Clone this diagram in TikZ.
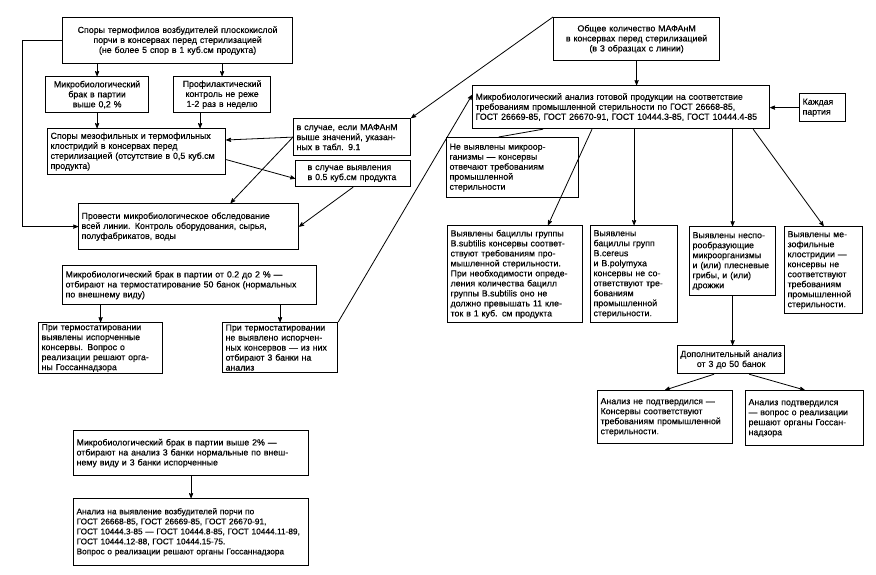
\documentclass[tikz,border=0pt]{standalone}
\usepackage{fontspec}
\setmainfont{Liberation Sans}
\newfontfamily\tekst{Liberation Sans}[FakeBold=0.4]
\usetikzlibrary{arrows}
\tikzset{
  blok/.style={draw, line width=1.2pt, anchor=north west, inner xsep=3pt, inner ysep=1.5pt, align=left, font=\tekst\fontsize{8.8}{10}\selectfont},
  svyaz/.style={line width=.8pt, ->, >=stealth'}
}

\begin{document}
\begin{tikzpicture}[x=1pt,y=-1pt]
\useasboundingbox (0,0) rectangle (876,575);

\node[blok, align=center, text width=224pt, minimum height=46pt] (termofil) at (62,17) {Споры термофилов возбудителей плоскокислой\\ порчи в консервах перед стерилизацией\\ (не более 5 спор в 1 куб.см продукта)};
\node[blok, align=center, text width=97pt, minimum height=36pt] (brak02) at (45,76) {Микробиологический\\ брак в партии\\ выше 0,2 \%};
\node[blok, align=center, text width=91pt, minimum height=36pt] (profil) at (173,76) {Профилактический\\ контроль не реже\\ 1-2 раз в неделю};
\node[blok, text width=172pt, minimum height=46pt] (mezofil) at (47,128) {Споры мезофильных и термофильных\\ клостридий в консервах перед\\ стерилизацией (отсутствие в 0,5 куб.см\\ продукта)};
\node[blok, text width=214pt, minimum height=46pt] (obsled) at (78,203) {Провести микробиологическое обследование\\ всей линии. Контроль оборудования, сырья,\\ полуфабрикатов, воды};
\node[blok, text width=248pt, minimum height=39pt] (brak2) at (62,265) {Микробиологический брак в партии от 0.2 до 2 \% —\\ отбирают на термостатирование 50 банок (нормальных\\ по внешнему виду)};
\node[blok, text width=118pt, minimum height=50pt] (isporch) at (38,322) {При термостатировании\\ выявлены испорченные\\ консервы. Вопрос о\\ реализации решают орга-\\ ны Госсаннадзора};
\node[blok, text width=109pt, minimum height=50pt] (neisporch) at (222,322) {При термостатировании\\ не выявлено испорчен-\\ ных консервов — из них\\ отбирают 3 банки на\\ анализ};
\node[blok, text width=229pt, minimum height=45pt] (brakvyshe) at (73,430) {Микробиологический брак в партии выше 2\% —\\ отбирают на анализ 3 банки нормальные по внеш-\\ нему виду и 3 банки испорченные};
\node[blok, font=\tekst\fontsize{8.3}{10}\selectfont, text width=229pt, minimum height=67pt] (analizporchi) at (73,498) {Анализ на выявление возбудителей порчи по\\ ГОСТ 26668-85, ГОСТ 26669-85, ГОСТ 26670-91,\\ ГОСТ 10444.3-85 — ГОСТ 10444.8-85, ГОСТ 10444.11-89,\\ ГОСТ 10444.12-88, ГОСТ 10444.15-75.\\ Вопрос о реализации решают органы Госсаннадзора};

\node[blok, text width=111pt, minimum height=37pt] (mafan) at (293,118) {в случае, если МАФАнМ\\ выше значений, указан-\\ ных в табл. 9.1};
\node[blok, inner xsep=12pt, text width=91pt, minimum height=26pt] (vyyavl) at (295,160) {в случае выявления\\ в 0.5 куб.см продукта};

\node[blok, align=center, text width=160pt, minimum height=43pt] (obshee) at (553,17) {Общее количество МАФАнМ\\ в консервах перед стерилизацией\\ (в 3 образцах с линии)};
\node[blok, text width=291pt, minimum height=43pt] (analiz) at (472,85) {Микробиологический анализ готовой продукции на соответствие\\ требованиям промышленной стерильности по ГОСТ 26668-85,\\ ГОСТ 26669-85, ГОСТ 26670-91, ГОСТ 10444.3-85, ГОСТ 10444.4-85};
\node[blok, text width=40pt, minimum height=28pt] (partiya) at (799,93) {Каждая\\ партия};
\node[blok, text width=126pt, minimum height=60pt] (nevyyavl) at (446,137) {Не выявлены микроор-\\ ганизмы — консервы\\ отвечают требованиям\\ промышленной\\ стерильности};
\node[blok, text width=129pt, minimum height=97pt] (subtilis) at (447,225) {Выявлены бациллы группы\\ B.subtilis консервы соответ-\\ ствуют требованиям про-\\ мышленной стерильности.\\ При необходимости опреде-\\ ления количества бацилл\\ группы B.subtilis оно не\\ должно превышать 11 кле-\\ ток в 1 куб. см продукта};
\node[blok, text width=81pt, minimum height=97pt] (cereus) at (590,225) {Выявлены\\ бациллы групп\\ B.cereus\\ и B.polymyxa\\ консервы не со-\\ ответствуют тре-\\ бованиям\\ промышленной\\ стерильности.};
\node[blok, text width=80pt, minimum height=69pt] (nespor) at (689,226) {Выявлены неспо-\\ рообразующие\\ микроорганизмы\\ и (или) плесневые\\ грибы, и (или)\\ дрожжи};
\node[blok, text width=72pt, minimum height=87pt] (mezokl) at (784,226) {Выявлены ме-\\ зофильные\\ клостридии —\\ консервы не\\ соответствуют\\ требованиям\\ промышленной\\ стерильности.};
\node[blok, align=center, inner xsep=1pt, text width=105pt, minimum height=28pt] (dopanaliz) at (677,345) {Дополнительный анализ\\ от 3 до 50 банок};
\node[blok, text width=129pt, minimum height=53pt] (nepodtv) at (597,390) {Анализ не подтвердился —\\ Консервы соответствуют\\ требованиям промышленной\\ стерильности.};
\node[blok, text width=112pt, minimum height=55pt] (podtv) at (745,390) {Анализ подтвердился\\ — вопрос о реализации\\ решают органы Госсан-\\ надзора};

\coordinate (p3) at ([xshift=-22pt]profil.south);
\draw[svyaz] (termofil.south -| brak02.north) -- (brak02.north);
\draw[svyaz] (termofil.south -| profil.north) -- (profil.north);
\draw[svyaz] (brak02.south) -- (brak02.south |- mezofil.north);
\draw[svyaz] (p3) -- (p3 |- mezofil.north);
\draw[svyaz] (termofil.west) -- ++(-40,0) |- (obsled.west);
\draw[svyaz] (mafan.west) -- ([yshift=-12pt]mezofil.north east);
\draw[svyaz] (mafan.west) -- ([xshift=42pt]obsled.north);
\draw[svyaz] ([yshift=-8pt]mezofil.east) -- ([yshift=-5pt]vyyavl.west);
\draw[svyaz] (vyyavl.south) -- (obsled.east);
\draw[svyaz] (obshee.north west) -- (mafan.north east);
\draw[svyaz] (brak2.south -| isporch.north) -- (isporch.north);
\draw[svyaz] (brak2.south -| neisporch.north) -- (neisporch.north);
\draw[svyaz] (neisporch.north east) -- ([yshift=-10pt]analiz.north west);
\draw[svyaz] (brakvyshe.south) -- (analizporchi.north);

\draw[svyaz] (obshee.south) -- (obshee.south |- analiz.north);
\draw[svyaz] (partiya.west) -- (partiya.west -| analiz.east);
\draw[line width=.8pt] ([xshift=71pt]analiz.south west) -- ([xshift=-14pt]nevyyavl.north);
\draw[svyaz] ([xshift=120pt]analiz.south west) -- ([xshift=33pt]subtilis.north);
\draw[svyaz] (cereus.north |- analiz.south) -- (cereus.north);
\draw[svyaz] (nespor.north |- analiz.south) -- (nespor.north);
\draw[svyaz] ([xshift=-17pt]analiz.south east) -- (mezokl.north);
\draw[svyaz] (nespor.south) -- (nespor.south |- dopanaliz.north);
\draw[svyaz] ([xshift=-17pt]dopanaliz.south) -- (nepodtv.north);
\draw[svyaz] ([xshift=18pt]dopanaliz.south) -- (podtv.north);
\end{tikzpicture}
\end{document}
